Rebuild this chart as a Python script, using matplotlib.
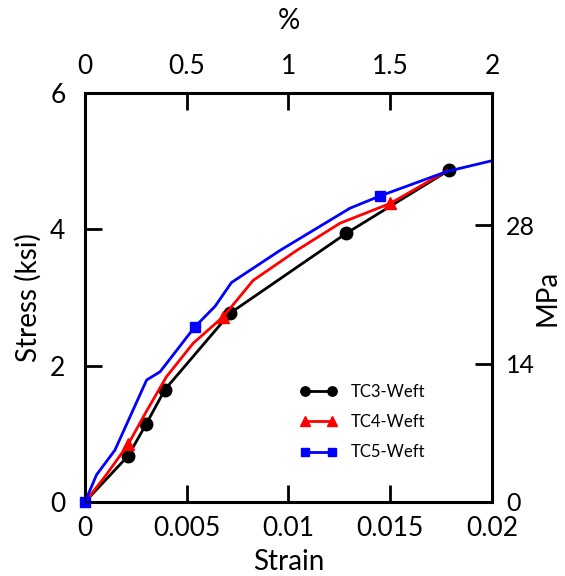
import matplotlib.pyplot as plt

plt.rcParams['font.family'] = ['Lato', 'DejaVu Sans']

# TC3-Weft (black, circles)
tc3_strain = [0, 0.00213, 0.0030, 0.00393, 0.00713, 0.01283, 0.0179]
tc3_stress = [0, 0.68, 1.14, 1.65, 2.77, 3.94, 4.87]

# TC4-Weft (red, triangles) - line points, markers on some of them
tc4_strain = [0, 0.0010, 0.00213, 0.0030, 0.00401, 0.00532, 0.0068, 0.00826, 0.0104, 0.01253, 0.0150, 0.0178]
tc4_stress = [0, 0.38, 0.85, 1.32, 1.84, 2.33, 2.72, 3.25, 3.69, 4.09, 4.38, 4.86]
tc4_marks = [2, 6, 10]

# TC5-Weft (blue, squares)
tc5_strain = [0, 0.00057, 0.00147, 0.00303, 0.00369, 0.0054, 0.00639, 0.0072, 0.00958, 0.01302, 0.0145, 0.0178, 0.0199]
tc5_stress = [0, 0.40, 0.76, 1.79, 1.91, 2.57, 2.87, 3.22, 3.69, 4.31, 4.49, 4.85, 5.0]
tc5_marks = [0, 5, 10]

x_ticks = [0, 0.005, 0.01, 0.015, 0.02]
x_ticklabels = ['0', '0.005', '0.01', '0.015', '0.02']
pct_labels = ['0', '0.5', '1', '1.5', '2']
y_ticks = [0, 2, 4, 6]
mpa_ticks = [0, 14, 28]
ksi_to_mpa = 6.895

fig = plt.figure(figsize=(5.65, 5.76), dpi=100)
ax = fig.add_axes([0.1504, 0.1285, 0.7204, 0.71])

ax.plot(tc3_strain, tc3_stress, color='black', lw=2, marker='o', ms=9,
        markevery=list(range(1, len(tc3_strain))), label='TC3-Weft', zorder=3)
ax.plot(tc4_strain, tc4_stress, color='red', lw=2, marker='^', ms=9,
        markevery=tc4_marks, label='TC4-Weft', zorder=4)
ax.plot(tc5_strain, tc5_stress, color='blue', lw=2, marker='s', ms=7,
        markevery=tc5_marks, label='TC5-Weft', zorder=5, clip_on=False)

ax.set_xlim(0, 0.02)
ax.set_ylim(0, 6)
ax.set_xticks(x_ticks)
ax.set_xticklabels(x_ticklabels)
ax.set_yticks(y_ticks)
ax.set_xlabel('Strain', fontsize=20, labelpad=6)
ax.set_ylabel('Stress (ksi)', fontsize=20, labelpad=6)
ax.tick_params(direction='in', length=12, width=2, labelsize=19)
ax.tick_params(axis='x', pad=10)
ax.tick_params(axis='y', pad=14)
for s in ax.spines.values():
    s.set_linewidth(2.2)

ax2 = ax.twinx()
ax2.set_ylim(0, 6 * ksi_to_mpa)
ax2.set_yticks(mpa_ticks)
ax2.set_ylabel('MPa', fontsize=20, labelpad=0)
ax2.tick_params(direction='in', length=12, width=2, labelsize=18, pad=10)

ax3 = ax.twiny()
ax3.set_xlim(0, 0.02)
ax3.set_xticks(x_ticks)
ax3.set_xticklabels(pct_labels)
ax3.set_xlabel('%', fontsize=20, labelpad=18)
ax3.tick_params(direction='in', length=12, width=2, labelsize=19, pad=10)

leg = ax.legend(loc='upper left', bbox_to_anchor=(300 / 565, 1 - 384 / 576),
                bbox_transform=fig.transFigure, frameon=False, borderpad=0,
                borderaxespad=0, fontsize=12, numpoints=2, handlelength=2.2,
                handletextpad=0.85, labelspacing=0.85, markerscale=0.75)

fig.savefig('out.png', dpi=100)
